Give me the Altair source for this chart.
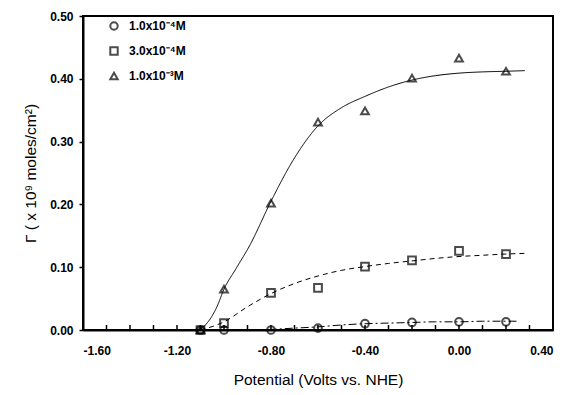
import altair as alt
import pandas as pd

labels = ["1.0x10⁻⁴M", "3.0x10⁻⁴M", "1.0x10⁻³M"]

# measured points
pot = [-1.1, -1.0, -0.8, -0.6, -0.4, -0.2, 0.0, 0.2]
g_low = [0.0, 0.0, 0.0, 0.003, 0.010, 0.012, 0.013, 0.013]
g_mid = [0.0, 0.011, 0.059, 0.067, 0.101, 0.111, 0.126, 0.121]
g_high = [0.0, 0.065, 0.202, 0.331, 0.349, 0.401, 0.433, 0.412]

# fitted curves
fit_low_x = [-1.15, -1.0, -0.9, -0.8, -0.7, -0.6, -0.5, -0.4, -0.3, -0.2, -0.1, 0.0, 0.1, 0.25]
fit_low_y = [0.0, 0.0, 0.0, 0.001, 0.003, 0.005, 0.008, 0.010, 0.011, 0.012, 0.013, 0.013, 0.014, 0.014]
fit_mid_x = [-1.1, -1.0, -0.9, -0.8, -0.7, -0.6, -0.5, -0.4, -0.3, -0.2, -0.1, 0.0, 0.1, 0.2, 0.28]
fit_mid_y = [0.0, 0.013, 0.037, 0.058, 0.074, 0.086, 0.095, 0.101, 0.106, 0.110, 0.114, 0.117, 0.119, 0.121, 0.122]
fit_high_x = [-1.13, -1.1, -1.07, -1.03, -1.0, -0.95, -0.89, -0.8, -0.7, -0.6, -0.5, -0.4,
              -0.3, -0.2, -0.1, 0.0, 0.1, 0.2, 0.28]
fit_high_y = [0.0, 0.002, 0.012, 0.037, 0.065, 0.097, 0.135, 0.205, 0.274, 0.325, 0.354, 0.372,
              0.387, 0.398, 0.405, 0.409, 0.411, 0.412, 0.413]

x_ticks = [-1.5, -1.4, -1.3, -1.2, -1.1, -1.0, -0.9, -0.8, -0.7, -0.6, -0.5, -0.4,
           -0.3, -0.2, -0.1, 0.0, 0.1, 0.2, 0.3]
x_labels = [-1.6, -1.2, -0.8, -0.4, 0.0, 0.4]
y_ticks = [0.0, 0.1, 0.2, 0.3, 0.4, 0.5]
x_range = [-1.6, 0.4]
y_range = [0.0, 0.5]

pts = pd.concat([
    pd.DataFrame({"x": pot, "y": g, "s": lab})
    for g, lab in zip([g_low, g_mid, g_high], labels)
])
ticks = pd.DataFrame({"x": x_ticks})

FONT = "Liberation Sans"
xscale = alt.Scale(domain=x_range, nice=False, zero=False)
yscale = alt.Scale(domain=y_range, nice=False)

xaxis = alt.Axis(values=x_labels, format=".2f", ticks=False, grid=False,
                 title="Potential (Volts vs. NHE)", titleFont=FONT, titleFontSize=15.5,
                 titleFontWeight="normal", titlePadding=16, labelFont=FONT,
                 labelFontSize=12, labelFontWeight="bold", labelPadding=15,
                 labelColor="black", titleColor="black", domainColor="black",
                 domainWidth=2, labelExpr="replace(datum.label, '\u2212', '-')")
yaxis = alt.Axis(values=y_ticks, format=".2f", tickSize=4, tickWidth=1.5, tickColor="black",
                 grid=False, title="Γ ( x 10⁹ moles/cm²)", titleFont=FONT,
                 titleFontSize=15.5, titleFontWeight="normal", titlePadding=11,
                 labelFont=FONT, labelFontSize=12, labelFontWeight="bold",
                 labelPadding=6, labelColor="black", titleColor="black",
                 domainColor="black", domainWidth=2)

shape_scale = alt.Scale(domain=labels, range=["circle", "square", "triangle-up"])


def fit_line(fx, fy, dash, with_axes=False):
    df = pd.DataFrame({"x": fx, "y": fy})
    if with_axes:
        enc_x = alt.X("x:Q", scale=xscale, axis=xaxis)
        enc_y = alt.Y("y:Q", scale=yscale, axis=yaxis)
    else:
        enc_x = alt.X("x:Q", scale=xscale)
        enc_y = alt.Y("y:Q", scale=yscale)
    return alt.Chart(df).mark_line(color="black", strokeWidth=1, strokeDash=dash,
                                   interpolate="monotone").encode(x=enc_x, y=enc_y)


line_high = fit_line(fit_high_x, fit_high_y, [1, 0], with_axes=True)
line_mid = fit_line(fit_mid_x, fit_mid_y, [5, 4])
line_low = fit_line(fit_low_x, fit_low_y, [8, 3, 2, 3])

frame = alt.Chart(pd.DataFrame({"a": [0]})).mark_rect(
    filled=False, stroke="black", strokeWidth=2).encode(
    x=alt.datum(x_range[0]), x2=alt.datum(x_range[1]),
    y=alt.datum(y_range[0]), y2=alt.datum(y_range[1]),
)

points = alt.Chart(pts).mark_point(filled=False, color="black", strokeWidth=2, size=60).encode(
    x=alt.X("x:Q", scale=xscale),
    y=alt.Y("y:Q", scale=yscale),
    shape=alt.Shape("s:N", scale=shape_scale,
                    legend=alt.Legend(title=None, orient="none", legendX=25, legendY=4,
                                      labelFont=FONT, labelFontSize=12,
                                      labelFontWeight="bold",
                                      labelColor="black", symbolStrokeColor="black",
                                      symbolStrokeWidth=2, symbolSize=55,
                                      rowPadding=9, labelOffset=9)),
)

tickmarks = alt.Chart(ticks).mark_rule(color="black", strokeWidth=1.5).encode(
    x=alt.X("x:Q", scale=xscale),
    y=alt.datum(0),
    y2=alt.datum(0.008),
)

chart = alt.layer(line_high, line_mid, line_low, frame, tickmarks, points).properties(
    width=470, height=314,
    padding={"left": 83, "top": 16, "right": 16, "bottom": 65},
    autosize=alt.AutoSizeParams(type="none"),
).configure_view(stroke="black", strokeWidth=2)

chart.save("out.html", embed_options={"renderer": "svg", "actions": False})
